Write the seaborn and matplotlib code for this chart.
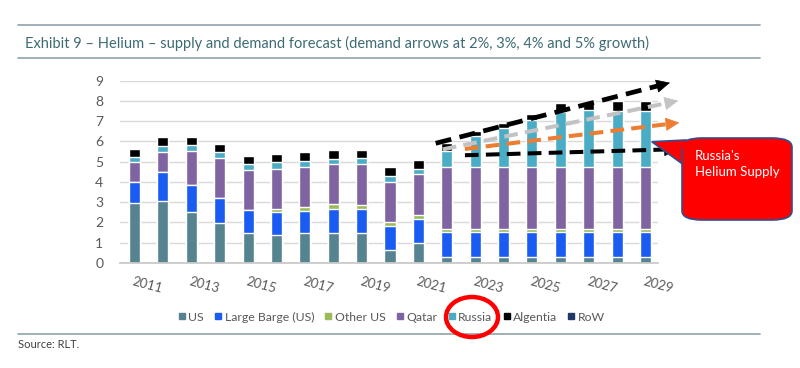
import numpy as np
import pandas as pd
import seaborn as sns
import matplotlib.pyplot as plt
from matplotlib.lines import Line2D
from matplotlib.patches import Ellipse, FancyBboxPatch, Polygon

# supply by source, million-ish units per year
years = list(range(2011, 2030))
us = [2.95, 3.07, 2.50, 1.97, 1.48, 1.36, 1.48, 1.48, 1.48, 0.62, 0.98,
      0.31, 0.31, 0.31, 0.31, 0.31, 0.31, 0.31, 0.31]
large_barge = [1.05, 1.43, 1.34, 1.23, 1.12, 1.14, 1.11, 1.19, 1.19, 1.22, 1.20,
               1.22, 1.22, 1.22, 1.22, 1.22, 1.22, 1.22, 1.22]
other_us = [0, 0, 0, 0, 0, 0.17, 0.18, 0.22, 0.20, 0.18, 0.21,
            0.16, 0.16, 0.16, 0.16, 0.16, 0.16, 0.16, 0.16]
qatar = [1.00, 0.96, 1.70, 1.96, 2.00, 1.99, 1.98, 1.98, 2.00, 1.98, 1.99,
         3.03, 3.03, 3.03, 3.03, 3.03, 3.03, 3.03, 3.03]
russia = [0.25, 0.31, 0.28, 0.32, 0.27, 0.31, 0.30, 0.28, 0.30, 0.30, 0.28,
          0.83, 1.53, 1.93, 2.33, 2.75, 2.83, 2.80, 2.80]
algentia = [0.40, 0.43, 0.41, 0.41, 0.41, 0.41, 0.43, 0.42, 0.40, 0.42, 0.42,
            0.35, 0.25, 0.25, 0.30, 0.41, 0.41, 0.49, 0.48]
row = [0] * 19

series = [("US", us, "#55838f"),
          ("Large Barge (US)", large_barge, "#1a5cf2"),
          ("Other US", other_us, "#9bbb59"),
          ("Qatar", qatar, "#8064a2"),
          ("Russia", russia, "#4bacc6"),
          ("Algentia", algentia, "#000000"),
          ("RoW", row, "#1f3864")]

# demand arrows: start/end (year, value)
arrow_start_year = [2021.61, 2021.86, 2022.64, 2022.64]
arrow_start_val = [5.91, 5.61, 5.63, 5.32]
arrow_end_year = [2029.86, 2030.15, 2030.19, 2030.14]
arrow_end_val = [8.90, 8.01, 6.93, 5.62]
arrow_colours = ["#000000", "#c3c3c3", "#ed7d31", "#000000"]
arrow_widths = [3.4, 2.9, 2.9, 2.9]

sns.set_theme(style="white")
plt.rcParams['font.family'] = ['Lato', 'DejaVu Sans']

W, H = 800, 368


def fx(px):
    return px / W


def fy(py):
    return 1 - py / H


fig = plt.figure(figsize=(8, 3.68), dpi=100)
ax = fig.add_axes([fx(120), fy(263), fx(658) - fx(120), fy(80.7) - fy(263)])

df = pd.DataFrame({name: vals for name, vals, _ in series}, index=years)
cum = df.cumsum(axis=1)
labels = [str(y) for y in years]
for name, _, colour in reversed(series):
    sns.barplot(x=labels, y=cum[name].values, color=colour, width=0.39,
                saturation=1, errorbar=None, ax=ax, zorder=2)

ax.set_xlim(-0.51, 18.44)
ax.set_ylim(0, 9)
ax.set_yticks(range(10))
ax.yaxis.grid(True, color="#d9d9d9", lw=1)
ax.set_axisbelow(True)
for s in ["top", "right", "left"]:
    ax.spines[s].set_visible(False)
ax.spines["bottom"].set_color("#c8c8c8")
ax.set_xticks(range(0, 19, 2))
ax.set_xticklabels(labels[::2], rotation=-15, ha="left", rotation_mode="anchor")
ax.tick_params(axis="x", length=0, pad=9, labelsize=9.5, labelcolor="#595959")
ax.tick_params(axis="y", length=0, pad=12, labelsize=10, labelcolor="#595959")
ax.set_xlabel("")
ax.set_ylabel("")

for sy, sv, ey, ev, c, lw in zip(arrow_start_year, arrow_start_val, arrow_end_year,
                                 arrow_end_val, arrow_colours, arrow_widths):
    x0, x1 = sy - 2011, ey - 2011
    t = 1 - 0.42 / (x1 - x0)
    bx, bv = x0 + t * (x1 - x0), sv + t * (ev - sv)
    ax.plot([x0, bx], [sv, bv], color=c, lw=lw, dashes=(3.4, 1.8),
            solid_capstyle="butt", dash_capstyle="butt", clip_on=False, zorder=4)
    ax.annotate("", xy=(x1, ev), xytext=(bx, bv), annotation_clip=False,
                arrowprops=dict(arrowstyle="-|>,head_length=0.45,head_width=0.22",
                                mutation_scale=20, color=c, lw=0.5,
                                shrinkA=0, shrinkB=0), zorder=4)

# callout
ptr = Polygon([(fx(651.7), fy(141.7)), (fx(686), fy(140)), (fx(688), fy(168))],
              closed=True, transform=fig.transFigure, fc="#ff0000", ec="#2f4f8f", lw=1.2,
              zorder=10)
fig.add_artist(ptr)
box = FancyBboxPatch((fx(682), fy(220)), fx(792) - fx(682), fy(138) - fy(220),
                     boxstyle="round,pad=0,rounding_size=0.025", transform=fig.transFigure,
                     fc="#ff0000", ec="#2f4f8f", lw=1.2, zorder=11)
fig.add_artist(box)
cover = Polygon([(fx(680), fy(141.5)), (fx(687), fy(141.5)), (fx(688.5), fy(166))],
                closed=True, transform=fig.transFigure, fc="#ff0000", ec="none", zorder=12)
fig.add_artist(cover)
fig.text(fx(695), fy(164), "Russia's\nHelium Supply", color="white", fontsize=9.5,
         va="center", ha="left", linespacing=1.4, zorder=13)

# header / footer
rule = "#8fa3aa"
for yy in [25, 58, 334]:
    fig.add_artist(Line2D([fx(18), fx(760)], [fy(yy), fy(yy)], color=rule, lw=1.2))
fig.text(fx(25), fy(43), "Exhibit 9 \u2013 Helium \u2013 supply and demand forecast "
         "(demand arrows at 2%, 3%, 4% and 5% growth)",
         fontsize=10.5, color="#3d6b73", va="center", ha="left")
fig.text(fx(18), fy(345), "Source: RLT.", fontsize=8, color="#404040", va="center")

handles = [Line2D([], [], marker="s", ls="", color=c, markersize=4.5) for _, _, c in series]
fig.legend(handles, [n for n, _, _ in series], loc="center",
           bbox_to_anchor=(fx(391), fy(317)), ncol=7, frameon=False, fontsize=8.8,
           handletextpad=0.15, columnspacing=0.75, handlelength=0.8, labelcolor="#595959")

fig.add_artist(Ellipse((fx(472), fy(317)), fx(52), 40 / H, transform=fig.transFigure,
                       fill=False, ec="#ff0000", lw=3.2, zorder=20))

fig.savefig("out.png", dpi=100)
